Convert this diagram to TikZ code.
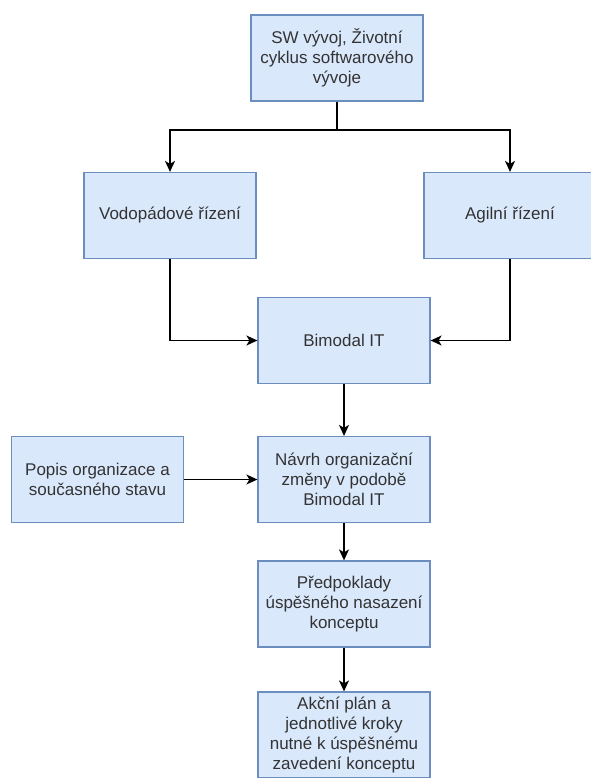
\documentclass[tikz,border=0pt]{standalone}
\usepackage{fontspec}
\setmainfont{Liberation Sans}
\usetikzlibrary{arrows.meta}
\definecolor{boxfill}{HTML}{DAE8FC}
\definecolor{boxline}{HTML}{6C8EBF}
\definecolor{boxtext}{HTML}{333333}
\begin{document}
\begin{tikzpicture}[x=1pt,y=-1pt,
  stagebox/.style={draw=boxline, fill=boxfill, line width=1.2pt,
    minimum width=172pt, minimum height=86pt, inner sep=0pt,
    align=center, text=boxtext, font=\fontsize{17}{20}\selectfont},
  flow/.style={draw=black, line width=1.4pt,
    -{Stealth[length=11pt,width=10pt,inset=3pt]}},
  plain/.style={draw=black, line width=1.4pt}]
\useasboundingbox[fill=white] (0,0) rectangle (590,778);

\node[stagebox] (sw)    at (337,58)    {SW vývoj, Životní\\cyklus softwarového\\vývoje};
\node[stagebox] (vodo)  at (170,215.5) {Vodopádové řízení};
\node[stagebox] (agil)  at (510,215.5) {Agilní řízení};
\node[stagebox] (bimo)  at (344,340.5) {Bimodal IT};
\node[stagebox] (popis) at (97.5,479.5){Popis organizace a\\současného stavu};
\node[stagebox] (navrh) at (344,479.5) {Návrh organizační\\změny v podobě\\Bimodal IT};
\node[stagebox] (pred)  at (344,604)   {Předpoklady\\úspěšného nasazení\\konceptu};
\node[stagebox] (akce)  at (344,735)   {Akční plán a\\jednotlivé kroky\\nutné k úspěšnému\\zavedení konceptu};

% split below the top box
\coordinate (split) at (337,130);
\draw[plain] (sw.south) -- (split);
\draw[flow] (split) -| (vodo.north);
\draw[flow] (split) -| (agil.north);

% both management styles feed Bimodal IT
\draw[flow] (vodo.south) |- (bimo.west);
\draw[flow] (agil.south) |- (bimo.east);

% main chain
\draw[flow] (bimo.south) -- (navrh.north);
\draw[flow] (popis.east) -- (navrh.west);
\draw[flow] (navrh.south) -- (pred.north);
\draw[flow] (pred.south) -- (akce.north);
\end{tikzpicture}
\end{document}
